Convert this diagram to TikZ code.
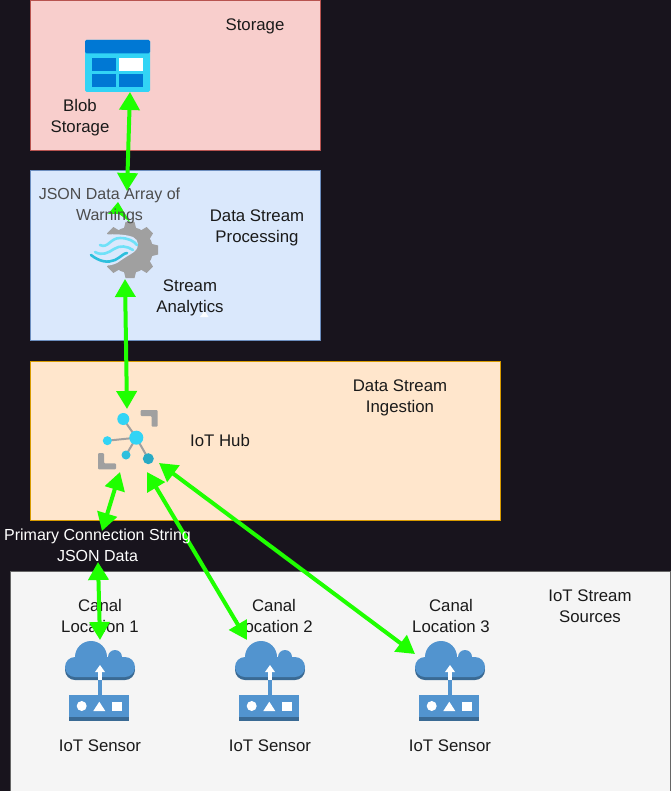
\documentclass[tikz,border=0pt]{standalone}
\usepackage{fontspec}
\usepackage{xcolor}
\usetikzlibrary{arrows.meta,positioning,calc}
\setmainfont{Liberation Sans}
\definecolor{backdrop}{HTML}{18141D}
\definecolor{sigcol}{HTML}{1FFF00}
\definecolor{azblue}{HTML}{0078D4}
\definecolor{azsky}{HTML}{32D4F5}
\definecolor{cloudcol}{HTML}{5294CF}
\definecolor{clouddark}{HTML}{3A6A94}
\definecolor{gearcol}{HTML}{A0A0A0}
\definecolor{redfill}{HTML}{F8CECC}
\definecolor{redline}{HTML}{B85450}
\definecolor{bluefill}{HTML}{DAE8FC}
\definecolor{blueline}{HTML}{6C8EBF}
\definecolor{orangefill}{HTML}{FFE6CC}
\definecolor{orangeline}{HTML}{D79B00}
\definecolor{greyfill}{HTML}{F5F5F5}
\definecolor{greyline}{HTML}{666666}
\definecolor{inkcol}{HTML}{1A1A1A}
\tikzset{
  panel/.style={draw=#1,line width=0.8pt},
  lbl/.style={font=\fontsize{16.8}{21}\selectfont,align=center,text=inkcol,inner sep=0pt},
  smalllbl/.style={font=\fontsize{16}{21}\selectfont,align=center,inner sep=0pt},
  sig/.style={draw=sigcol,line width=4pt,{Triangle[length=18pt,width=20pt]}-{Triangle[length=18pt,width=20pt]}},
  pics/sensor/.style={code={
    \fill[clouddark] (-9,-20) circle (16pt) (-25,-10) circle (10pt) (25,-10) circle (10pt) (-25,-20) rectangle (25,0);
    \fill[cloudcol] (-9,-23) circle (16pt) (15,-23) circle (7pt) (-25,-13) circle (10pt) (25,-13) circle (10pt) (-25,-23) rectangle (25,-3);
    \fill[cloudcol] (-2,0) rectangle (2,15);
    \fill[white] (-2,0) rectangle (2,-9);
    \fill[white] (-5,-8) -- (0,-15) -- (5,-8) -- cycle;
    \fill[clouddark] (-30.7,15) rectangle (29,41);
    \fill[cloudcol] (-30.7,15) rectangle (29,37);
    \fill[white] (-18.3,26) circle (5pt);
    \fill[white] (-0.7,21.7) -- (-6.7,31) -- (5.3,31) -- cycle;
    \fill[white] (11.7,21.7) rectangle (22.3,31);
  }},
}
\begin{document}
\begin{tikzpicture}[x=1pt,y=-1pt]
\useasboundingbox (0,0) rectangle (671,791);
\fill[backdrop] (0,0) rectangle (671,791);
% panels
\filldraw[panel=redline,fill=redfill] (30,0) rectangle (320,150);
\filldraw[panel=blueline,fill=bluefill] (30,170) rectangle (320,340);
\filldraw[panel=orangeline,fill=orangefill] (30,361) rectangle (500,520);
\filldraw[panel=greyline,fill=greyfill] (10,571) rectangle (670.5,791);
% blob icon
\begin{scope}[shift={(85,40)}]
\fill[azsky,rounded corners=1.5pt] (0,0) rectangle (65,52);
\fill[azblue,rounded corners=1.5pt] (0,0) rectangle (65,13.5);
\fill[azblue] (7,18.3) rectangle (31,31);
\fill[white] (33.7,18.3) rectangle (57.7,31);
\fill[azblue] (7,34) rectangle (31,46.7);
\fill[azblue] (33.7,34) rectangle (57.7,46.7);
\end{scope}
% stream analytics icon
\begin{scope}[shift={(130,250)}]
\fill[gearcol] (0,0) circle (23pt);
\foreach \a in {0,45,...,315} {
  \fill[gearcol,rotate=\a] (-6.5,-20) -- (-4.5,-28) -- (4.5,-28) -- (6.5,-20) -- cycle;
}
\fill[bluefill] (-42,-14) .. controls (-25,-16) and (-8,-17) .. (3,-13) .. controls (9,-10) and (10,-3) .. (4,2)
  .. controls (-2,6) and (-6,8) .. (-10,11) .. controls (-16,16) and (-28,18) .. (-42,12) -- cycle;
\draw[azsky!70!white,line width=2.6pt,line cap=round] (-30,-5) .. controls (-22,-1) and (-20,-12) .. (-10,-12) .. controls (-2,-12) and (4,-9) .. (7,-5);
\draw[azsky!70!white,line width=2.6pt,line cap=round] (-35,2) .. controls (-28,6) and (-22,3) .. (-16,-1) .. controls (-10,-5) and (-3,-4) .. (3,0);
\draw[azsky!90!black,line width=2.6pt,line cap=round] (-39,5) .. controls (-30,12) and (-22,13) .. (-15,10) .. controls (-9,7) and (-6,3) .. (-3,3);
\end{scope}
% hub icon
\begin{scope}[shift={(136.3,437.7)}]
\draw[gearcol,line width=2pt] (0,0) -- (-13,-18.7) (0,0) -- (-29,3) (0,0) -- (-10.3,17.3) (0,0) -- (12,21);
\fill[azsky] (0,0) circle (7pt);
\fill[azsky] (-13,-18.7) circle (6pt);
\fill[azsky] (-29,3) circle (4.5pt);
\fill[azsky!90!black] (-10.3,17.3) circle (4.5pt);
\fill[azsky!80!black] (12,21) circle (5.5pt);
\fill[gearcol,rounded corners=1pt] (4.4,-27.7) -- (21.4,-27.7) -- (21.4,-11) -- (15.4,-11) -- (15.4,-21.7) -- (4.4,-21.7) -- cycle;
\fill[gearcol,rounded corners=1pt] (-38.3,15.3) -- (-32.3,15.3) -- (-32.3,25.6) -- (-20.3,25.6) -- (-20.3,31.6) -- (-38.3,31.6) -- cycle;
\end{scope}
% sensors
\pic at (100,680) {sensor};
\pic at (270,680) {sensor};
\pic at (450,680) {sensor};
% small white mark
\fill[white!90!bluefill] (200,317) -- (204.5,311) -- (208.5,317) -- cycle;
% texts under the arrows
\node[lbl] (can1) at (100,615.5) {Canal\\Location 1};
\node[lbl] (can2) at (274,615.5) {Canal\\Location 2};
\node[lbl] (can3) at (451,615.5) {Canal\\Location 3};
% anchors
\coordinate (blobend) at (130,92);
\coordinate (asaup) at (127,191);
\coordinate (asalow) at (125,279);
\coordinate (hubup) at (127,409);
\coordinate (hubleft) at (120,472);
\coordinate (connup) at (102,531);
\coordinate (connlow) at (98,562);
\coordinate (loc1) at (100,640);
\coordinate (hubmid) at (147,472);
\coordinate (loc2) at (247,640);
\coordinate (hubright) at (159,463);
\coordinate (loc3) at (415,654);
% arrows
\draw[sig] (blobend) -- (asaup);
\draw[sig] (asalow) -- (hubup);
\draw[sig] (hubleft) -- (connup);
\draw[sig] (connlow) -- (loc1);
\draw[sig] (hubmid) -- (loc2);
\draw[sig] (hubright) -- (loc3);
\fill[sigcol] (118,202) -- (108,214) -- (119,214) -- (130,222) -- cycle;
% texts
\node[lbl] (storage) at (255,26.5) {Storage};
\node[lbl] (blob) at (80,118) {Blob\\Storage};
\node[smalllbl,text=black!70] (warn) at (109.5,206) {JSON Data Array of\\Warnings};
\node[lbl] (dsp) at (257,227.5) {Data Stream\\Processing};
\node[lbl] (asa) at (190,298) {Stream\\Analytics};
\node[lbl] (dsi) at (400,397.5) {Data Stream\\Ingestion};
\node[lbl] (hub) at (220,440.5) {IoT Hub};
\node[smalllbl,text=white] (conn) at (97.5,545) {Primary Connection String\\JSON Data};
\node[lbl] (src) at (590,606.5) {IoT Stream\\Sources};
\node[lbl] (sen1) at (100,745.5) {IoT Sensor};
\node[lbl] (sen2) at (270,745.5) {IoT Sensor};
\node[lbl] (sen3) at (450,745.5) {IoT Sensor};
\end{tikzpicture}
\end{document}
